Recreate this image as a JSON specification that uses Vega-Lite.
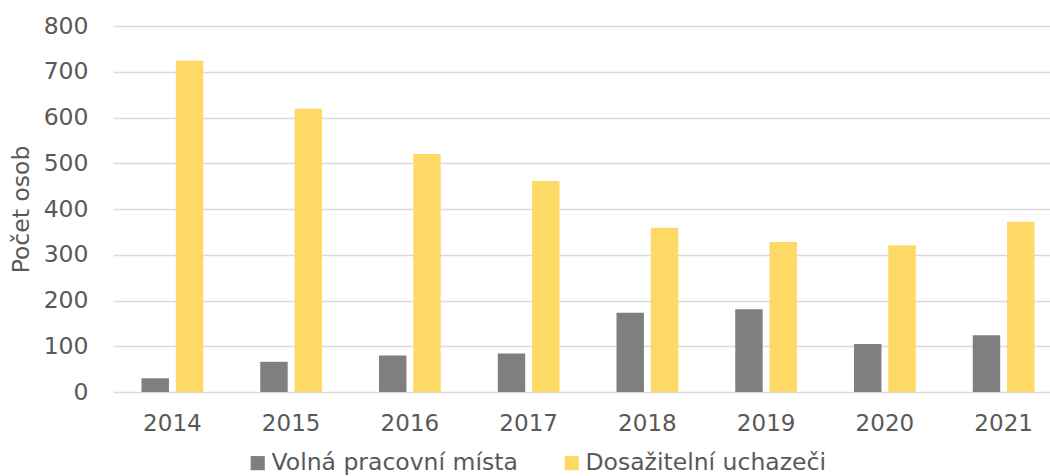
{
  "$schema": "https://vega.github.io/schema/vega-lite/v6.json",
  "autosize": "none",
  "padding": {"left": 113, "top": 26, "right": 0, "bottom": 84},
  "width": 937,
  "height": 366,
  "background": "white",
  "config": {
    "font": "DejaVu Sans",
    "view": {"stroke": null}
  },
  "data": {
    "values": [
      {"rok": "2014", "serie": "Volná pracovní místa", "pocet": 30},
      {"rok": "2014", "serie": "Dosažitelní uchazeči", "pocet": 724},
      {"rok": "2015", "serie": "Volná pracovní místa", "pocet": 66},
      {"rok": "2015", "serie": "Dosažitelní uchazeči", "pocet": 619},
      {"rok": "2016", "serie": "Volná pracovní místa", "pocet": 80},
      {"rok": "2016", "serie": "Dosažitelní uchazeči", "pocet": 520},
      {"rok": "2017", "serie": "Volná pracovní místa", "pocet": 84},
      {"rok": "2017", "serie": "Dosažitelní uchazeči", "pocet": 461},
      {"rok": "2018", "serie": "Volná pracovní místa", "pocet": 173},
      {"rok": "2018", "serie": "Dosažitelní uchazeči", "pocet": 359},
      {"rok": "2019", "serie": "Volná pracovní místa", "pocet": 181},
      {"rok": "2019", "serie": "Dosažitelní uchazeči", "pocet": 328},
      {"rok": "2020", "serie": "Volná pracovní místa", "pocet": 105},
      {"rok": "2020", "serie": "Dosažitelní uchazeči", "pocet": 321},
      {"rok": "2021", "serie": "Volná pracovní místa", "pocet": 124},
      {"rok": "2021", "serie": "Dosažitelní uchazeči", "pocet": 372}
    ]
  },
  "mark": {"type": "bar"},
  "encoding": {
    "x": {
      "field": "rok", "type": "nominal", "title": null,
      "scale": {"range": [0, 950], "paddingInner": 0.48, "paddingOuter": 0.24},
      "axis": {"labelAngle": 0, "domain": false, "ticks": false, "labelPadding": 20, "labelFontSize": 23, "labelColor": "#595959", "grid": false}
    },
    "xOffset": {
      "field": "serie", "type": "nominal",
      "sort": ["Volná pracovní místa", "Dosažitelní uchazeči"],
      "scale": {"paddingInner": 0.2}
    },
    "y": {
      "field": "pocet", "type": "quantitative", "title": "Počet osob",
      "scale": {"domain": [0, 800]},
      "axis": {"values": [0,100,200,300,400,500,600,700,800], "domain": false, "ticks": false, "labelPadding": 25, "labelFontSize": 23.5, "labelColor": "#595959", "gridColor": "#d9d9d9", "gridWidth": 1.5, "titleFontSize": 23.5, "titleFontWeight": "normal", "titleColor": "#595959", "titlePadding": 10}
    },
    "color": {
      "field": "serie", "type": "nominal",
      "sort": ["Volná pracovní místa", "Dosažitelní uchazeči"],
      "scale": {"domain": ["Volná pracovní místa", "Dosažitelní uchazeči"], "range": ["#7f7f7f", "#ffd966"]},
      "legend": {"title": null, "orient": "none", "direction": "horizontal", "legendX": 133, "legendY": 425, "symbolType": "square", "symbolSize": 200, "symbolStrokeWidth": 0, "labelFontSize": 23.5, "labelLimit": 0, "labelColor": "#595959", "columnPadding": 42, "labelOffset": 2}
    }
  }
}
